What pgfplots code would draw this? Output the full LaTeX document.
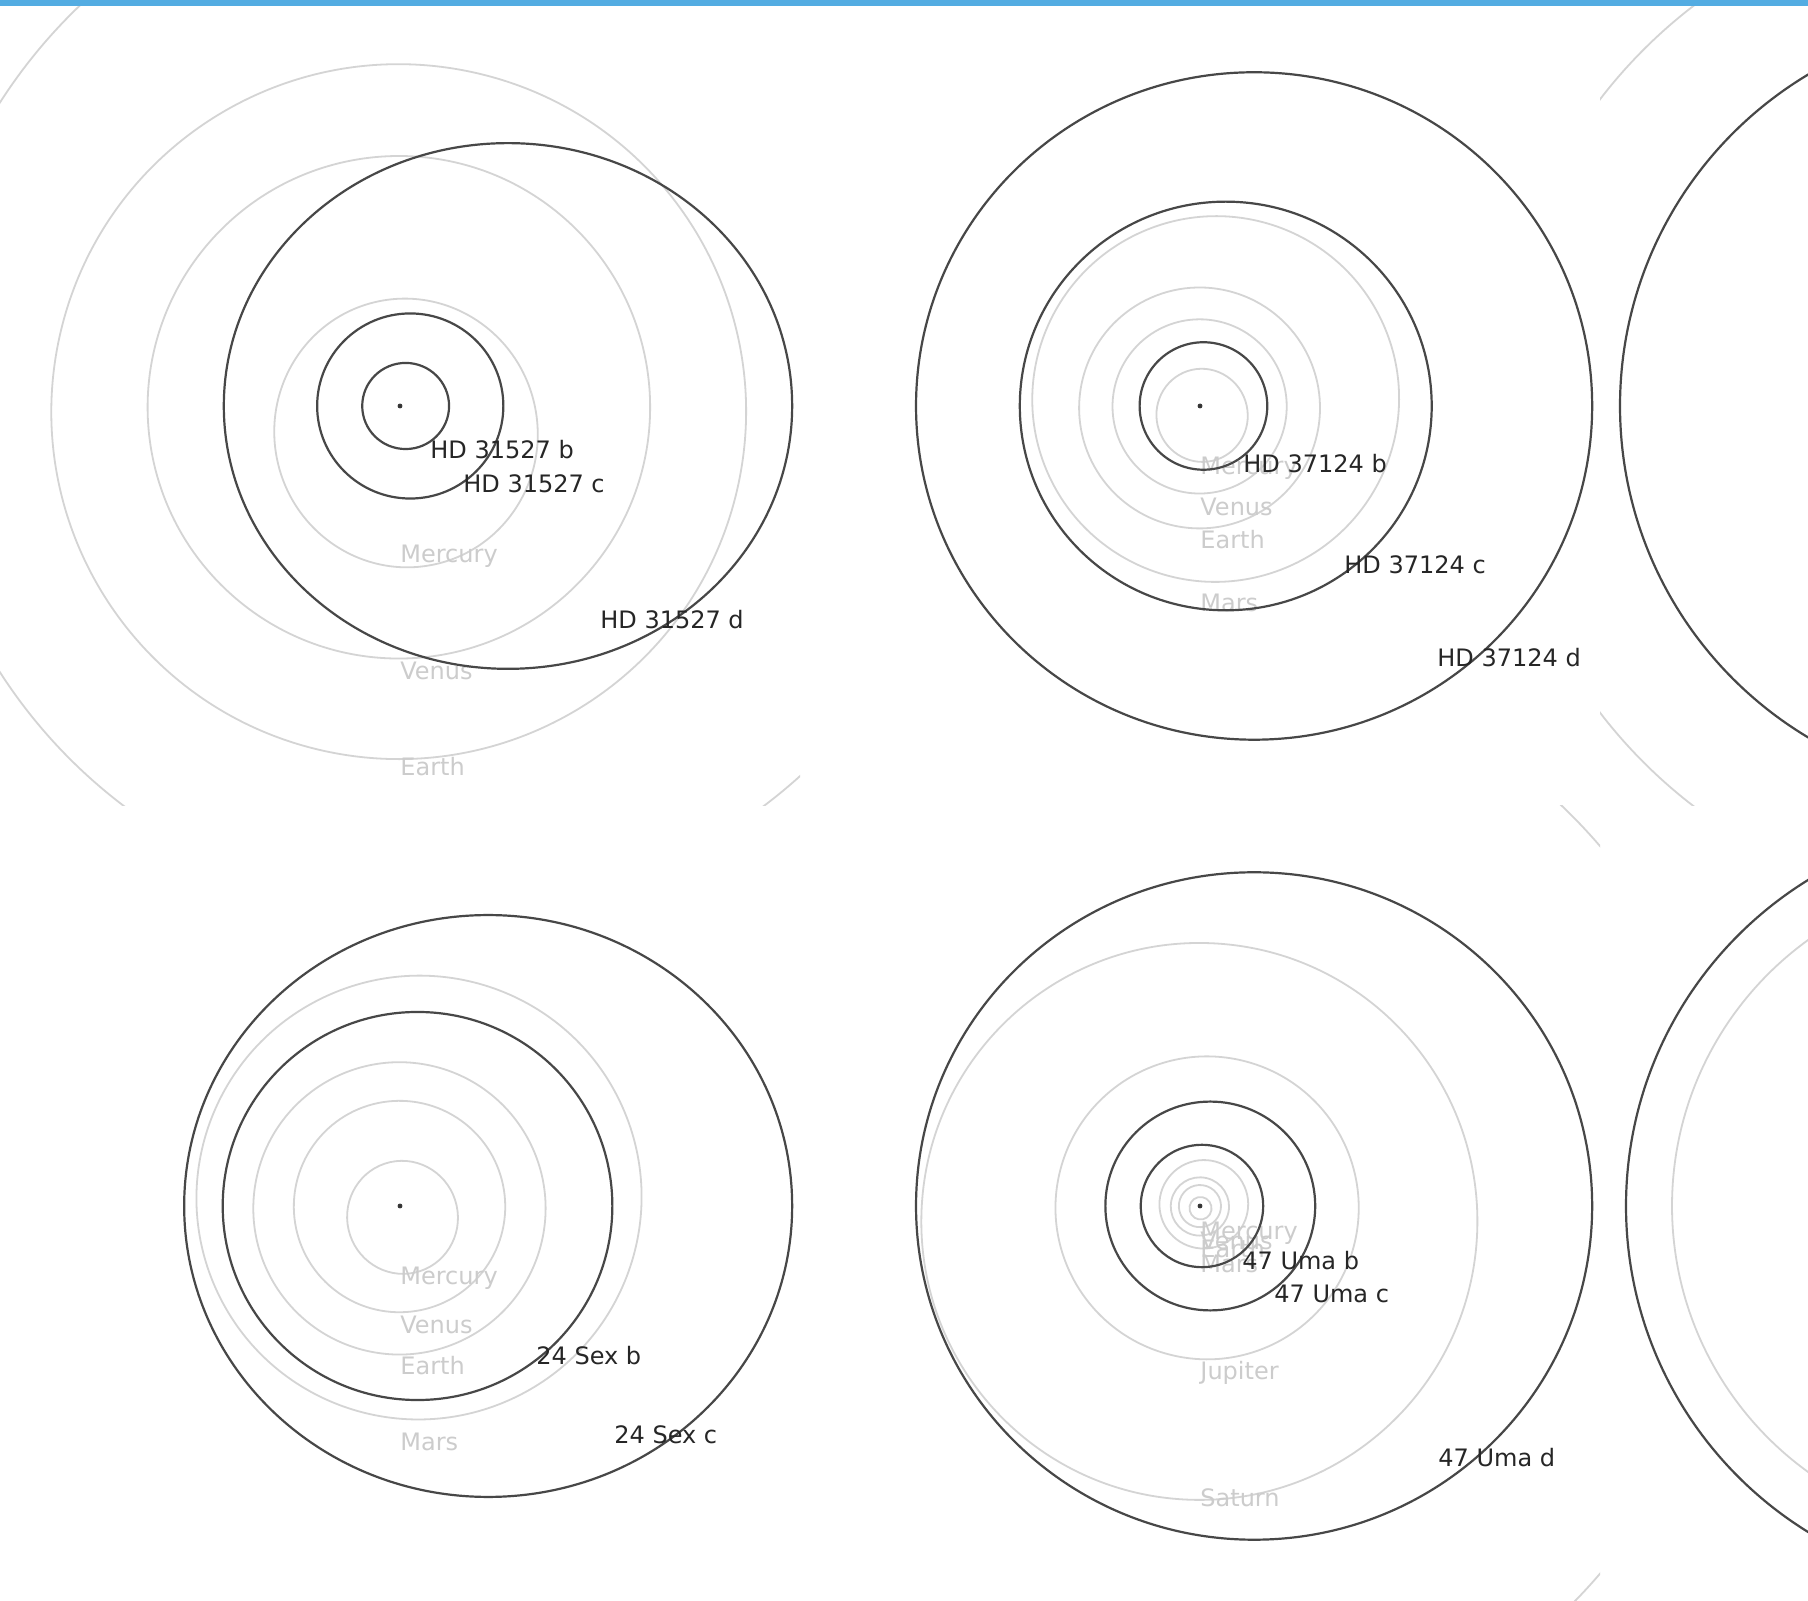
\documentclass[border=0pt]{standalone}
\usepackage{pgfplots}
\pgfplotsset{compat=1.18}
\usepackage{fontspec}
\setmainfont{DejaVu Sans}

\definecolor{topbar}{HTML}{53ACE2}

\tikzset{
  planet/.style={draw=black!72, line width=1.1pt},
  solar/.style={draw=black!17, line width=0.9pt},
  planetname/.style={anchor=base west, inner sep=0pt, text=black!85,
    font=\fontsize{12}{14}\selectfont},
  solarname/.style={anchor=base west, inner sep=0pt, yshift=-11pt, text=black!20,
    font=\fontsize{12}{14}\selectfont},
}

% one square panel per system, star at the origin, limits in AU
\pgfplotsset{
  orbitpanel/.style={
    scale only axis, width=400pt, height=400pt, hide axis,
    xmin=-#1, xmax=#1, ymin=-#1, ymax=#1,
    anchor=south west, clip=true},
}

% Solar System reference orbits: centre (a e cos w, -a e sin w), semi-axes a and b
\newcommand\mercuryorbit{\draw[solar] (axis cs:0.01728,-0.07769) ellipse [x radius=0.3871, y radius=0.37883, rotate=-77.46];}
\newcommand\venusorbit{\draw[solar] (axis cs:-0.00326,-0.00368) ellipse [x radius=0.7233, y radius=0.72328, rotate=-131.53];}
\newcommand\earthorbit{\draw[solar] (axis cs:-0.00374,-0.01628) ellipse [x radius=1.0000, y radius=0.99986, rotate=-102.94];}
\newcommand\marsorbit{\draw[solar] (axis cs:0.13006,0.05779) ellipse [x radius=1.5237, y radius=1.51704, rotate=23.96];}
\newcommand\jupiterorbit{\draw[solar] (axis cs:0.24350,-0.06410) ellipse [x radius=5.2026, y radius=5.19650, rotate=-14.75];}
\newcommand\saturnorbit{\draw[solar] (axis cs:-0.02248,-0.52982) ellipse [x radius=9.5549, y radius=9.54020, rotate=-92.43];}
\newcommand\uranusorbit{\draw[solar] (axis cs:-0.87880,-0.13980) ellipse [x radius=19.2184, y radius=19.19780, rotate=-170.96];}

\newcommand\starmark{\addplot[only marks, mark=*, mark size=1pt, black!80] coordinates {(0,0)};}

\begin{document}
\begin{tikzpicture}
\clip (0pt,0pt) rectangle (904pt,800pt);
\fill[white] (0pt,0pt) rectangle (904pt,800pt);

% ---------------- HD 31527 ----------------
\begin{axis}[orbitpanel=1.15142, at={(0pt,397pt)}]
  \mercuryorbit \venusorbit \earthorbit \marsorbit
  \node[solarname] at (axis cs:0,-0.3871) {Mercury};
  \node[solarname] at (axis cs:0,-0.7233) {Venus};
  \node[solarname] at (axis cs:0,-1.0000) {Earth};
  \draw[planet] (axis cs:0.01625,0) ellipse [x radius=0.1250, y radius=0.12394];
  \draw[planet] (axis cs:0.02950,0) ellipse [x radius=0.2680, y radius=0.26638];
  \draw[planet] (axis cs:0.31084,0) ellipse [x radius=0.8180, y radius=0.75664];
  \starmark
  \node[planetname] at (axis cs:0.0864,-0.1526) {HD 31527 b};
  \node[planetname] at (axis cs:0.1813,-0.2504) {HD 31527 c};
  \node[planetname] at (axis cs:0.5757,-0.6419) {HD 31527 d};
\end{axis}

% ---------------- HD 37124 ----------------
\begin{axis}[orbitpanel=3.32124, at={(400pt,397pt)}]
  \mercuryorbit \venusorbit \earthorbit \marsorbit
  \node[solarname] at (axis cs:0,-0.3871) {Mercury};
  \node[solarname] at (axis cs:0,-0.7233) {Venus};
  \node[solarname] at (axis cs:0,-1.0000) {Earth};
  \node[solarname] at (axis cs:0,-1.5237) {Mars};
  \draw[planet] (axis cs:0.02862,0) ellipse [x radius=0.530, y radius=0.52923];
  \draw[planet] (axis cs:0.21375,0) ellipse [x radius=1.710, y radius=1.69660];
  \draw[planet] (axis cs:0.44912,0) ellipse [x radius=2.807, y radius=2.77085];
  \starmark
  \node[planetname] at (axis cs:0.3570,-0.5563) {HD 37124 b};
  \node[planetname] at (axis cs:1.1956,-1.3949) {HD 37124 c};
  \node[planetname] at (axis cs:1.9678,-2.1671) {HD 37124 d};
\end{axis}

% ---------------- next system (partly shown) ----------------
\begin{axis}[orbitpanel=1, at={(800pt,397pt)}]
  \draw[solar] (axis cs:0,0) ellipse [x radius=1.26, y radius=1.26];
  \draw[planet] (axis cs:0.015,0) ellipse [x radius=0.965, y radius=0.9649];
  \starmark
\end{axis}

% ---------------- 24 Sex ----------------
\begin{axis}[orbitpanel=2.73686, at={(0pt,-3pt)}]
  \mercuryorbit \venusorbit \earthorbit \marsorbit
  \node[solarname] at (axis cs:0,-0.3871) {Mercury};
  \node[solarname] at (axis cs:0,-0.7233) {Venus};
  \node[solarname] at (axis cs:0,-1.0000) {Earth};
  \node[solarname] at (axis cs:0,-1.5237) {Mars};
  \draw[planet] (axis cs:0.11997,0) ellipse [x radius=1.333, y radius=1.32759];
  \draw[planet] (axis cs:0.60320,0) ellipse [x radius=2.080, y radius=1.99063];
  \starmark
  \node[planetname] at (axis cs:0.9305,-1.0879) {24 Sex b};
  \node[planetname] at (axis cs:1.4642,-1.6216) {24 Sex c};
\end{axis}

% ---------------- 47 UMa ----------------
\begin{axis}[orbitpanel=13.7251, at={(400pt,-3pt)}]
  \mercuryorbit \venusorbit \earthorbit \marsorbit
  \jupiterorbit \saturnorbit \uranusorbit
  \node[solarname] at (axis cs:0,-0.3871) {Mercury};
  \node[solarname] at (axis cs:0,-0.7233) {Venus};
  \node[solarname] at (axis cs:0,-1.0000) {Earth};
  \node[solarname] at (axis cs:0,-1.5237) {Mars};
  \node[solarname] at (axis cs:0,-5.2026) {Jupiter};
  \node[solarname] at (axis cs:0,-9.5549) {Saturn};
  \draw[planet] (axis cs:0.0672,0) ellipse [x radius=2.10, y radius=2.0989];
  \draw[planet] (axis cs:0.3528,0) ellipse [x radius=3.60, y radius=3.58268];
  \draw[planet] (axis cs:1.8560,0) ellipse [x radius=11.60, y radius=11.4506];
  \starmark
  \node[planetname] at (axis cs:1.4411,-2.1960) {47 Uma b};
  \node[planetname] at (axis cs:2.5391,-3.3283) {47 Uma c};
  \node[planetname] at (axis cs:8.1664,-8.9556) {47 Uma d};
\end{axis}

% ---------------- next system (partly shown) ----------------
\begin{axis}[orbitpanel=1, at={(800pt,-3pt)}]
  \draw[solar] (axis cs:0,0) ellipse [x radius=0.82, y radius=0.82];
  \draw[planet] (axis cs:0.0225,0) ellipse [x radius=0.9575, y radius=0.9572];
  \starmark
\end{axis}

\fill[topbar] (0pt,797.1pt) rectangle (904pt,800pt);
\end{tikzpicture}
\end{document}
